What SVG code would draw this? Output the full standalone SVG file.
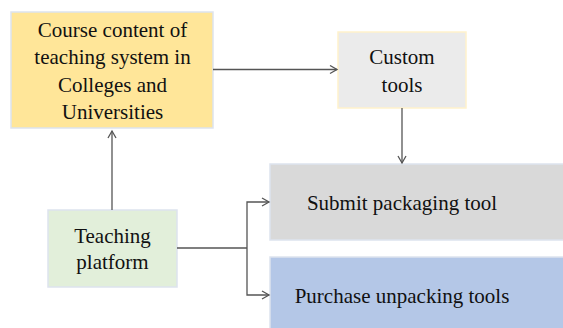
<svg xmlns="http://www.w3.org/2000/svg" width="563" height="328" viewBox="0 0 563 328">
<defs>
<style>
.t{font-family:"Liberation Serif","Times New Roman",serif;font-size:21px;fill:#111;text-anchor:middle}
.c{fill:none;stroke:#555;stroke-width:1.3}
</style>
<marker id="a" markerWidth="10" markerHeight="10" refX="8" refY="5" orient="auto" markerUnits="userSpaceOnUse">
<path d="M1,1 L8,5 L1,9" fill="none" stroke="#555" stroke-width="1.3"/>
</marker>
</defs>
<rect width="563" height="328" fill="#fff"/>
<g id="course">
<rect x="11" y="12" width="202" height="116" fill="#FFE699" stroke="#DDE3EE" stroke-width="1.5"/>
<text class="t" x="112.5" y="36.5">Course content of</text>
<text class="t" x="112.5" y="64">teaching system in</text>
<text class="t" x="112.5" y="92">Colleges and</text>
<text class="t" x="112.5" y="118.5">Universities</text>
</g>
<g id="custom">
<rect x="338" y="32" width="128" height="76" fill="#EBEBEB" stroke="#FFF2CC" stroke-width="1.5"/>
<text class="t" x="402" y="64">Custom</text>
<text class="t" x="402" y="92">tools</text>
</g>
<g id="teaching">
<rect x="48" y="210" width="129" height="77" fill="#E2EFDA" stroke="#DDE3EE" stroke-width="1.5"/>
<text class="t" x="112.5" y="242.5">Teaching</text>
<text class="t" x="112.5" y="268.5">platform</text>
</g>
<g id="submit">
<rect x="270" y="164" width="300" height="76" fill="#D9D9D9" stroke="#DDE3EE" stroke-width="1.5"/>
<text class="t" x="402" y="210">Submit packaging tool</text>
</g>
<g id="purchase">
<rect x="270" y="257" width="300" height="80" fill="#B4C7E7" stroke="#DDE3EE" stroke-width="1.5"/>
<text class="t" x="402" y="303">Purchase unpacking tools</text>
</g>
<g id="connectors">
<path class="c" d="M213,69.5 H337" marker-end="url(#a)"/>
<path class="c" d="M402,108 V163" marker-end="url(#a)"/>
<path class="c" d="M112,210 V131" marker-end="url(#a)"/>
<path class="c" d="M177,248 H247"/>
<path class="c" d="M247,248 V202 H269" marker-end="url(#a)"/>
<path class="c" d="M247,248 V295 H269" marker-end="url(#a)"/>
</g>
</svg>
